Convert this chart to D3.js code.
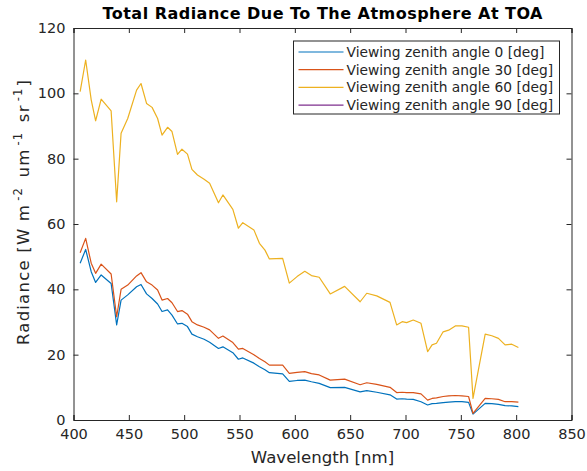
<!DOCTYPE html>
<html>
<head>
<meta charset="utf-8">
<script src="https://cdn.jsdelivr.net/npm/d3@7"></script>
<style>
    body { margin: 0; background: #fff; }
    svg { font-family: "DejaVu Sans", sans-serif; }
</style>
</head>
<body>
<svg id="chart" width="587" height="471"></svg>
<script>
// Wavelength samples [nm]
const wavelengths = [406, 411, 416, 420, 425, 434, 439, 443, 449, 457, 461, 466, 471, 476, 480, 485, 489, 494, 498, 503,
    507, 512, 518, 523, 531, 535, 544, 549, 553, 563, 568, 573, 577, 589, 595, 602, 609, 615, 622, 632,
    645, 659, 665, 674, 686, 692, 697, 701, 707, 714, 720, 724, 728, 734, 739, 745, 751, 757, 761, 772,
    778, 784, 790, 796, 802]

// Radiance per viewing zenith angle
const radiance0 = [48, 52.2, 45.4, 42.1, 44.4, 41.8, 29.1, 36.7, 38.3, 40.8, 41.5, 38.6, 37.2, 35.5, 33.2, 33.7, 32.1, 29.4, 29.6, 28.6,
    26.3, 25.5, 24.7, 23.8, 21.9, 22.4, 20.6, 18.6, 19.0, 17.4, 16.3, 15.4, 14.5, 14.1, 11.8, 12.1, 12.2, 11.7, 11.2, 9.9,
    10, 8.6, 9.0, 8.5, 7.7, 6.4, 6.5, 6.4, 6.3, 5.6, 4.6, 5.0, 5.1, 5.3, 5.5, 5.6, 5.6, 5.4, 1.8, 5.1,
    5.0, 4.8, 4.4, 4.3, 4.1]
const radiance30 = [51.2, 55.6, 48, 44.9, 47.7, 44.7, 31.6, 40, 41.3, 44.1, 45.1, 42.3, 41.3, 39.8, 36.7, 37.2, 35.9, 33.2, 33.5, 32.4,
    30.1, 29.1, 28.4, 27.6, 25, 25.7, 23.7, 21.7, 21.9, 20, 18.8, 17.8, 16.8, 16.8, 14.3, 14.6, 14.8, 14.2, 13.8, 12.2,
    12.5, 10.8, 11.4, 10.9, 10, 8.4, 8.5, 8.4, 8.4, 8.0, 6.1, 6.6, 6.8, 7.2, 7.4, 7.5, 7.4, 7.2, 2.0, 6.6,
    6.5, 6.3, 5.6, 5.6, 5.5]
const radiance60 = [100.5, 110.2, 98, 91.6, 98.2, 94.6, 66.8, 87.8, 92.3, 101, 103, 96.9, 95.7, 92.3, 87.2, 89.6, 88.3, 81.3, 82.9, 81.4,
    76.7, 75, 73.7, 72.5, 66.5, 68.9, 64.5, 58.7, 60.4, 58.2, 54.1, 52, 49.3, 49.5, 41.9, 43.9, 45.5, 44.2, 43.7, 38.6,
    40.9, 36.2, 38.8, 38, 36, 29.1, 30.1, 29.8, 30.6, 29.6, 20.9, 23, 23.5, 27, 27.5, 28.8, 28.8, 28.4, 6.6, 26.3,
    25.8, 25, 23, 23.2, 22.2]
// 90 deg gives no valid values (nothing drawn)
const radiance90 = wavelengths.map(() => null)

const seriesNames = ['Viewing zenith angle 0 [deg]', 'Viewing zenith angle 30 [deg]',
    'Viewing zenith angle 60 [deg]', 'Viewing zenith angle 90 [deg]']
const seriesColors = ['#0072BD', '#D95319', '#EDB120', '#7E2F8E']
const xTicks = [400, 450, 500, 550, 600, 650, 700, 750, 800, 850]
const yTicks = [0, 20, 40, 60, 80, 100, 120]

const series = [radiance0, radiance30, radiance60, radiance90].map((vals, i) => ({
    name: seriesNames[i],
    color: seriesColors[i],
    points: wavelengths.map((w, j) => ({ x: w, y: vals[j] }))
}))

// Plot area
const plotLeft = 73.5, plotRight = 571.5, plotTop = 28, plotBottom = 420
const axisColor = '#262626'

const svg = d3.select('#chart')

const xScale = d3.scaleLinear().domain([400, 850]).range([plotLeft, plotRight])
const yScale = d3.scaleLinear().domain([0, 120]).range([plotBottom, plotTop])

// Lines
const line = d3.line()
    .defined(d => d.y != null)
    .x(d => xScale(d.x))
    .y(d => yScale(d.y))

svg.selectAll('.series-line')
    .data(series)
    .enter()
    .append('path')
    .attr('class', 'series-line')
    .attr('d', d => line(d.points))
    .attr('fill', 'none')
    .attr('stroke', d => d.color)
    .attr('stroke-width', 1.2)
    .attr('stroke-linejoin', 'round')

// Axes (ticks inside, box on)
const tickSize = 5
svg.append('g')
    .attr('transform', `translate(0,${plotBottom})`)
    .call(d3.axisBottom(xScale).tickValues(xTicks).tickSize(-tickSize).tickPadding(9))
svg.append('g')
    .attr('transform', `translate(0,${plotTop})`)
    .call(d3.axisTop(xScale).tickValues(xTicks).tickSize(-tickSize).tickFormat(''))
svg.append('g')
    .attr('transform', `translate(${plotLeft},0)`)
    .call(d3.axisLeft(yScale).tickValues(yTicks).tickSize(-tickSize).tickPadding(8))
svg.append('g')
    .attr('transform', `translate(${plotRight},0)`)
    .call(d3.axisRight(yScale).tickValues(yTicks).tickSize(-tickSize).tickFormat(''))

svg.selectAll('.domain').attr('stroke', axisColor).attr('stroke-width', 1)
svg.selectAll('.tick line').attr('stroke', axisColor)
svg.selectAll('.tick text')
    .attr('fill', axisColor)
    .style('font-size', '14.5px')
    .style('font-family', '"DejaVu Sans", sans-serif')

// Title and labels
svg.append('text')
    .attr('x', (plotLeft + plotRight) / 2)
    .attr('y', 18.5)
    .attr('text-anchor', 'middle')
    .attr('textLength', 440)
    .attr('lengthAdjust', 'spacing')
    .style('font-size', '16px')
    .style('font-weight', 'bold')
    .attr('fill', '#000')
    .text('Total Radiance Due To The Atmosphere At TOA')

svg.append('text')
    .attr('x', (plotLeft + plotRight) / 2)
    .attr('y', 463)
    .attr('text-anchor', 'middle')
    .style('font-size', '16.6px')
    .attr('fill', axisColor)
    .text('Wavelength [nm]')

const yLabel = svg.append('text')
    .attr('transform', `translate(29,345) rotate(-90)`)
    .attr('text-anchor', 'start')
    .attr('textLength', 265)
    .attr('lengthAdjust', 'spacing')
    .style('font-size', '16.5px')
    .attr('fill', axisColor)
yLabel.append('tspan').text('Radiance [W m')
yLabel.append('tspan').attr('dy', -7).attr('dx', 3).style('font-size', '11.5px').text('-2')
yLabel.append('tspan').attr('dy', 7).attr('dx', 3).text(' um')
yLabel.append('tspan').attr('dy', -7).attr('dx', 3).style('font-size', '11.5px').text('-1')
yLabel.append('tspan').attr('dy', 7).attr('dx', 3).text(' sr')
yLabel.append('tspan').attr('dy', -7).attr('dx', 3).style('font-size', '11.5px').text('-1')
yLabel.append('tspan').attr('dy', 7).attr('dx', 1).text(']')

// Legend
const legendX = 293.5, legendY = 41, legendW = 266, legendH = 73, rowH = 17.7
const legend = svg.append('g')
legend.append('rect')
    .attr('x', legendX).attr('y', legendY)
    .attr('width', legendW).attr('height', legendH)
    .attr('fill', '#fff')
    .attr('stroke', axisColor)

const legendRows = legend.selectAll('.legend-row')
    .data(series)
    .enter()
    .append('g')
    .attr('class', 'legend-row')
    .attr('transform', (d, i) => `translate(${legendX},${legendY + 11 + i * rowH})`)
legendRows.append('line')
    .attr('x1', 5).attr('x2', 50)
    .attr('stroke', d => d.color)
    .attr('stroke-width', 1.2)
legendRows.append('text')
    .attr('x', 53)
    .attr('y', 5)
    .style('font-size', '13.8px')
    .attr('fill', axisColor)
    .text(d => d.name)
</script>
</body>
</html>
